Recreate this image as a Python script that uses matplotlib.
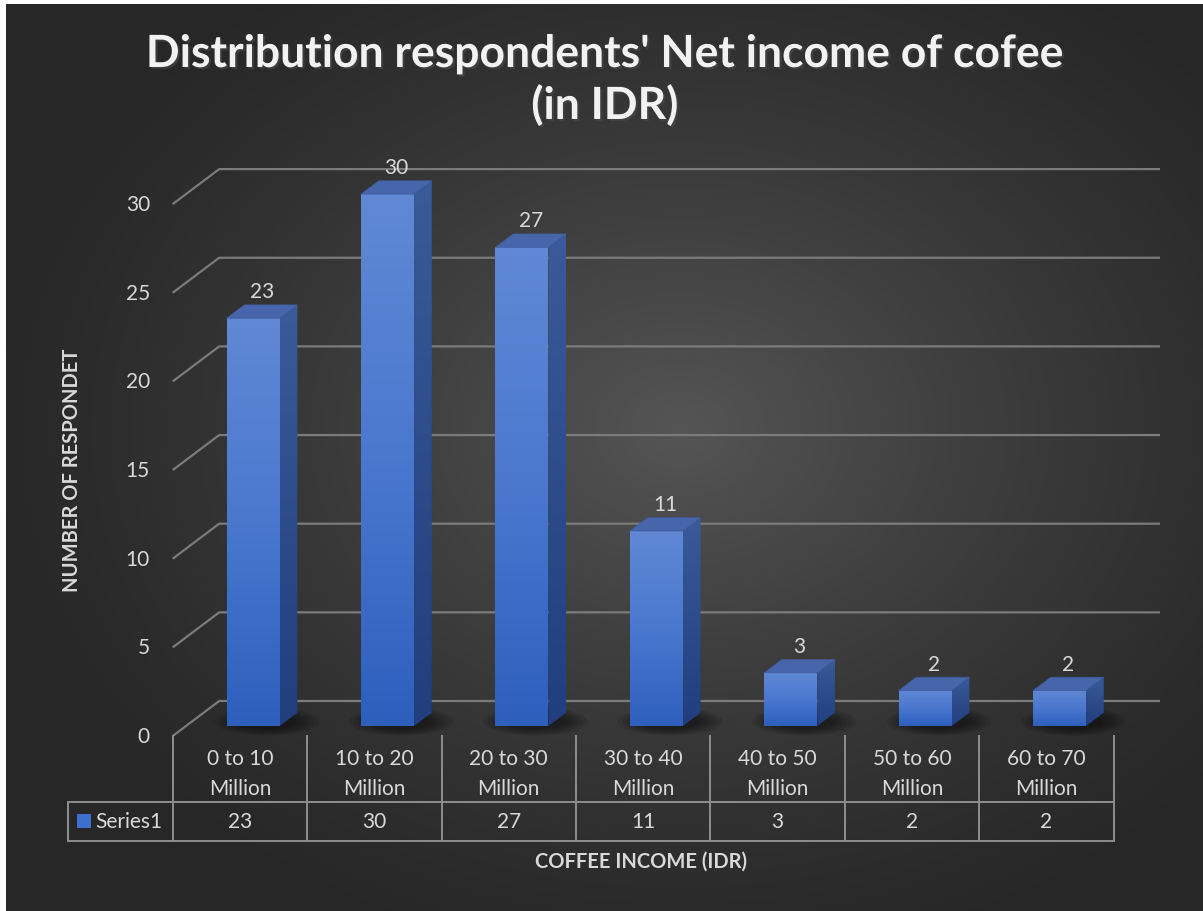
import numpy as np
import matplotlib
matplotlib.use('Agg')
import matplotlib.pyplot as plt
from matplotlib.patches import Polygon, Rectangle, Ellipse
from matplotlib.colors import LinearSegmentedColormap
import matplotlib.patheffects as pe

categories = ['0 to 10\nMillion', '10 to 20\nMillion', '20 to 30\nMillion', '30 to 40\nMillion',
              '40 to 50\nMillion', '50 to 60\nMillion', '60 to 70\nMillion']
values = [23, 30, 27, 11, 3, 2, 2]
y_ticks = [0, 5, 10, 15, 20, 25, 30]
series_name = 'Series1'
title = "Distribution respondents' Net income of cofee\n(in IDR)"
x_title = 'COFFEE INCOME (IDR)'
y_title = 'NUMBER OF RESPONDET'

plt.rcParams['font.family'] = ['Lato', 'DejaVu Sans']

W, H = 1203, 912
fig = plt.figure(figsize=(W / 100, H / 100), dpi=100)

# background: white strip top/left, dark radial gradient
bg = fig.add_axes([0, 0, 1, 1])
yy, xx = np.mgrid[0:H, 0:W]
r = np.sqrt(((xx - 680) / 720) ** 2 + ((yy - 430) / 560) ** 2)
shade = 0x27 + (0x55 - 0x27) * np.clip(1 - r, 0, 1) ** 1.3
img = np.dstack([shade, shade, shade]) / 255
img[:5, :, :] = 1
img[:, :6, :] = 1
bg.imshow(img, extent=(0, W, H, 0), aspect='auto', interpolation='bilinear')
bg.set_xlim(0, W)
bg.set_ylim(H, 0)
bg.axis('off')

# main plot area, pixel scale: 134.4 px per category, 17.73 px per unit
col_w = 134.4
unit = 17.73
x0_px, y0_px = 172.7, 737
ax = fig.add_axes([x0_px / W, (H - y0_px) / H, col_w * 7 / W, 32 * unit / H])
ax.set_xlim(-0.5, 6.5)
ax.set_ylim(0, 32)
ax.axis('off')

DX, DY = 46.5 / col_w, 35 / unit   # depth vector in data units
d0, d1 = 0.286, 0.666              # bar front / back depth fraction
bw = 53 / col_w
grid_c = '#7b7b7b'
text_c = '#d9d9d9'
fs = 15

for t in y_ticks:
    ax.plot([-0.5, -0.5 + DX, 6.5 + DX], [t, t + DY, t + DY], color=grid_c, lw=1.6,
            clip_on=False, zorder=1, solid_capstyle='butt')
    ax.text(-0.5 - 22.7 / col_w, t, str(t), ha='right', va='center', fontsize=fs,
            color=text_c)

front_cm = LinearSegmentedColormap.from_list('f', ['#2e5fbd', '#4a78cf', '#6088d4'])
side_cm = LinearSegmentedColormap.from_list('s', ['#213e7e', '#3a5a99'])
grad = np.linspace(0, 1, 100).reshape(-1, 1)

for i, v in enumerate(values):
    xl = i - bw / 2 + d0 * DX
    xr = xl + bw
    yb = d0 * DY
    yt = v + d0 * DY
    dd = d1 - d0
    # soft shadow
    for k in range(6):
        ax.add_patch(Ellipse((i + 0.2, yb + 0.25), 0.78 - k * 0.07, 1.6 - k * 0.15,
                             facecolor='black', alpha=0.09, lw=0, zorder=2, clip_on=False))
    ax.imshow(grad, extent=(xl, xr, yb, yt), origin='lower', aspect='auto', cmap=front_cm,
              zorder=4, interpolation='bilinear')
    side = Polygon([(xr, yb), (xr + dd * DX, yb + dd * DY), (xr + dd * DX, yt + dd * DY),
                    (xr, yt)], closed=True, facecolor='none', lw=0, zorder=4)
    ax.add_patch(side)
    im = ax.imshow(grad, extent=(xr, xr + dd * DX, yb, yt + dd * DY), origin='lower',
                   aspect='auto', cmap=side_cm, zorder=4, interpolation='bilinear')
    im.set_clip_path(side)
    ax.add_patch(Polygon([(xl, yt), (xr, yt), (xr + dd * DX, yt + dd * DY),
                          (xl + dd * DX, yt + dd * DY)], closed=True,
                         facecolor='#4765aa', edgecolor='#3f5c9e', lw=0.5, zorder=5))
    ax.text(xl + bw / 2 + dd * DX / 2, v + d1 * DY + 0.2, str(v), ha='center', va='bottom',
            fontsize=fs, color=text_c, zorder=6)

ax.set_xlim(-0.5, 6.5)
ax.set_ylim(0, 32)

# data table
tab_left = 68
tab = fig.add_axes([tab_left / W, (H - 842) / H, (x0_px + 7 * col_w - tab_left) / W, 105 / H])
xa = -0.5 - (x0_px - tab_left) / col_w
tab.set_xlim(xa, 6.5)
tab.set_ylim(0, 1)
tab.axis('off')
s = 39 / 105
line_c = '#8e8e8e'
for k in range(8):
    tab.plot([k - 0.5, k - 0.5], [0, 1], color=line_c, lw=1.4, clip_on=False)
tab.plot([xa, xa], [0, s], color=line_c, lw=1.4, clip_on=False)
tab.plot([xa, 6.5], [s, s], color=line_c, lw=1.4, clip_on=False)
tab.plot([xa, 6.5], [0, 0], color=line_c, lw=1.4, clip_on=False)
for i, (c, v) in enumerate(zip(categories, values)):
    tab.text(i, 0.645, c, ha='center', va='center', fontsize=fs, color=text_c,
             linespacing=1.6)
    tab.text(i, s / 2, str(v), ha='center', va='center', fontsize=fs, color=text_c)
tab.add_patch(Rectangle((xa + 9 / col_w, 13 / 105), 14 / col_w, 14 / 105,
                        facecolor='#3f6fcc', lw=0, clip_on=False))
tab.text(xa + 27 / col_w, s / 2, series_name, ha='left', va='center', fontsize=fs,
         color=text_c)

# titles
fig.text(605 / W, 1 - 81 / H, title, ha='center', va='center', fontsize=32,
         fontweight='bold', color='#f2f2f2', linespacing=1.3,
         path_effects=[pe.withSimplePatchShadow(offset=(1.5, -1.5), alpha=0.6)])
fig.text(641 / W, 1 - 862 / H, x_title, ha='center', va='center', fontsize=14.5,
         fontweight='bold', color=text_c)
fig.text(72 / W, 1 - 470 / H, y_title, ha='center', va='center', rotation=90,
         fontsize=14.5, fontweight='bold', color=text_c)

fig.savefig('out.png', dpi=100)
